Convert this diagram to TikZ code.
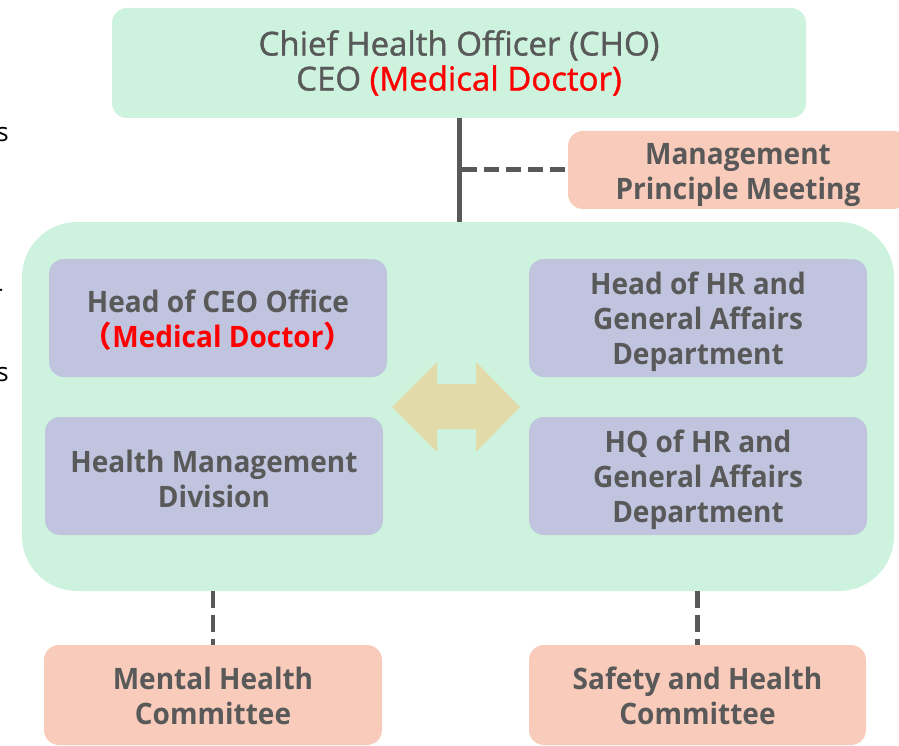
\documentclass[tikz,border=0pt]{standalone}
\usepackage{fontspec}
\setmainfont{Open Sans}
\newfontfamily\topfont[FakeBold=1.2]{Open Sans}
\newfontfamily\boxfont[FakeStretch=0.95]{Open Sans}
\newfontfamily\cjkfont{Noto Sans CJK JP}
\definecolor{mint}{HTML}{CDF3DF}
\definecolor{lav}{HTML}{C0C4DE}
\definecolor{salmon}{HTML}{F8CBBB}
\definecolor{sand}{HTML}{E2DAA8}
\definecolor{ink}{HTML}{595959}
\definecolor{redtxt}{HTML}{FF0000}
\tikzset{
  txt/.style={inner sep=0pt, align=center, text=ink,
    font=\boxfont\bfseries\fontsize{29.5}{35}\selectfont},
  box/.style={rounded corners=15pt, inner sep=0pt},
  lavbox/.style={box, fill=lav, minimum width=338pt, minimum height=118pt},
  salbox/.style={box, fill=salmon},
  solidline/.style={draw=ink, line width=5pt},
  dashline/.style={draw=ink, line width=5pt, dash pattern=on 15pt off 7pt},
  vdashline/.style={draw=ink, line width=4.5pt, dash pattern=on 17pt off 7pt},
  frag/.style={anchor=east, inner sep=0pt, text=black, font=\fontsize{26}{30}\selectfont}
}
\begin{document}
\begin{tikzpicture}[x=1pt,y=-1pt]
\useasboundingbox (0,0) rectangle (899,746);
% fragments at the left edge
\node[frag] (f1) at (9,135) {s};
\node[frag] (f2) at (3,296) {r};
\node[frag] (f3) at (9,375) {s};
% container
\node[fill=mint, rounded corners=55pt, minimum width=872pt, minimum height=369pt, inner sep=0pt] (cont) at (458,406.5) {};
% top box
\node[box, fill=mint, minimum width=694pt, minimum height=110pt,
  label={[txt, font=\topfont\fontsize{33}{35}\selectfont]center:{Chief Health Officer (CHO)\\CEO \textcolor{redtxt}{(Medical Doctor)}}}] (top) at (459,63) {};
% management box
\node[salbox, minimum width=340pt, minimum height=78pt,
  label={[txt, yshift=-5pt]center:{Management\\Principle Meeting}}] (mgmt) at (738,170) {};
% inner boxes
\node[lavbox, label={[txt, yshift=-2.5pt]center:{Head of CEO Office\\\textcolor{redtxt}{{\cjkfont\bfseries （}Medical Doctor{\cjkfont\bfseries ）}}}}] (ceo) at (218,318) {};
\node[lavbox, label={[txt, yshift=-4pt]center:{Head of HR and\\General Affairs\\Department}}] (hr) at (698,318) {};
\node[lavbox, label={[txt, yshift=-2.5pt]center:{Health Management\\Division}}] (hmd) at (214,476) {};
\node[lavbox, label={[txt, yshift=-4pt]center:{HQ of HR and\\General Affairs\\Department}}] (hq) at (698,476) {};
% committees
\node[salbox, minimum width=338pt, minimum height=100pt,
  label={[txt, yshift=-1pt]center:{Mental Health\\Committee}}] (mental) at (213,695) {};
\node[salbox, minimum width=337pt, minimum height=100pt,
  label={[txt, yshift=-1pt]center:{Safety and Health\\Committee}}] (safety) at (697.5,695) {};
% double arrow
\fill[sand] (392,407) -- (437,362) -- (437,384) -- (476,384) -- (476,362) -- (520,407)
  -- (476,452) -- (476,429) -- (437,429) -- (437,452) -- cycle;
% connectors
\coordinate (j) at (top.south |- mgmt.west);
\draw[solidline] (top.south) -- (top.south |- cont.north);
\draw[dashline] ([xshift=3pt]j) -- (mgmt.west);
\draw[vdashline] (mental.north |- cont.south) -- (mental.north);
\draw[vdashline] (safety.north |- cont.south) -- (safety.north);
\end{tikzpicture}
\end{document}
